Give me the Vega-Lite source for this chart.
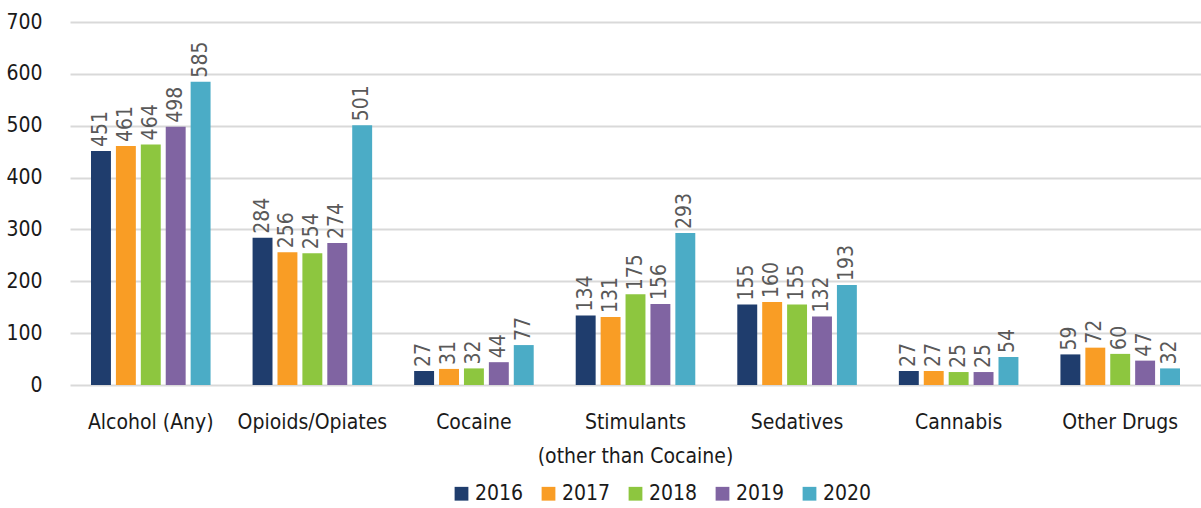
{
  "$schema": "https://vega.github.io/schema/vega-lite/v6.json",
  "width": 1131,
  "height": 363,
  "autosize": {"type": "none"},
  "padding": {"left": 70, "top": 22, "right": 0, "bottom": 123},
  "background": "white",
  "config": {
    "font": "DejaVu Sans Condensed, Roboto, sans-serif",
    "view": {"stroke": null},
    "axis": {"labelFont": "DejaVu Sans Condensed, Roboto, sans-serif", "labelFontSize": 21, "labelColor": "#1a1a1a", "labelLimit": 0},
    "legend": {"labelFont": "DejaVu Sans Condensed, Roboto, sans-serif", "labelFontSize": 21, "labelColor": "#1a1a1a"}
  },
  "data": {
    "values": [
      {"category": "Alcohol (Any)", "year": "2016", "value": 451},
      {"category": "Alcohol (Any)", "year": "2017", "value": 461},
      {"category": "Alcohol (Any)", "year": "2018", "value": 464},
      {"category": "Alcohol (Any)", "year": "2019", "value": 498},
      {"category": "Alcohol (Any)", "year": "2020", "value": 585},
      {"category": "Opioids/Opiates", "year": "2016", "value": 284},
      {"category": "Opioids/Opiates", "year": "2017", "value": 256},
      {"category": "Opioids/Opiates", "year": "2018", "value": 254},
      {"category": "Opioids/Opiates", "year": "2019", "value": 274},
      {"category": "Opioids/Opiates", "year": "2020", "value": 501},
      {"category": "Cocaine", "year": "2016", "value": 27},
      {"category": "Cocaine", "year": "2017", "value": 31},
      {"category": "Cocaine", "year": "2018", "value": 32},
      {"category": "Cocaine", "year": "2019", "value": 44},
      {"category": "Cocaine", "year": "2020", "value": 77},
      {"category": "Stimulants|(other than Cocaine)", "year": "2016", "value": 134},
      {"category": "Stimulants|(other than Cocaine)", "year": "2017", "value": 131},
      {"category": "Stimulants|(other than Cocaine)", "year": "2018", "value": 175},
      {"category": "Stimulants|(other than Cocaine)", "year": "2019", "value": 156},
      {"category": "Stimulants|(other than Cocaine)", "year": "2020", "value": 293},
      {"category": "Sedatives", "year": "2016", "value": 155},
      {"category": "Sedatives", "year": "2017", "value": 160},
      {"category": "Sedatives", "year": "2018", "value": 155},
      {"category": "Sedatives", "year": "2019", "value": 132},
      {"category": "Sedatives", "year": "2020", "value": 193},
      {"category": "Cannabis", "year": "2016", "value": 27},
      {"category": "Cannabis", "year": "2017", "value": 27},
      {"category": "Cannabis", "year": "2018", "value": 25},
      {"category": "Cannabis", "year": "2019", "value": 25},
      {"category": "Cannabis", "year": "2020", "value": 54},
      {"category": "Other Drugs", "year": "2016", "value": 59},
      {"category": "Other Drugs", "year": "2017", "value": 72},
      {"category": "Other Drugs", "year": "2018", "value": 60},
      {"category": "Other Drugs", "year": "2019", "value": 47},
      {"category": "Other Drugs", "year": "2020", "value": 32}
    ]
  },
  "encoding": {
    "x": {
      "field": "category",
      "type": "nominal",
      "sort": null,
      "scale": {"paddingInner": 0.26, "paddingOuter": 0.13},
      "axis": {
        "title": null,
        "labelAngle": 0,
        "domain": false,
        "ticks": false,
        "labelPadding": 26,
        "labelBaseline": "top",
        "labelLineHeight": 34,
        "labelExpr": "split(datum.label, '|')"
      }
    },
    "xOffset": {
      "field": "year",
      "type": "nominal",
      "scale": {"paddingInner": 0.2, "paddingOuter": 0}
    },
    "y": {
      "field": "value",
      "type": "quantitative",
      "scale": {"domain": [0, 700]},
      "axis": {
        "title": null,
        "values": [0, 100, 200, 300, 400, 500, 600, 700],
        "domain": false,
        "ticks": false,
        "labelPadding": 28,
        "gridColor": "#d9d9d9",
        "gridWidth": 2
      }
    }
  },
  "layer": [
    {
      "mark": {"type": "bar"},
      "encoding": {
        "color": {
          "field": "year",
          "type": "nominal",
          "scale": {
            "domain": ["2016", "2017", "2018", "2019", "2020"],
            "range": ["#1F3D6D", "#F99D25", "#8DC63F", "#8064A2", "#4BACC6"]
          },
          "legend": {
            "title": null,
            "orient": "none",
            "direction": "horizontal",
            "legendX": 381,
            "legendY": 461,
            "symbolType": "square",
            "symbolSize": 190,
            "symbolStrokeWidth": 0,
            "columnPadding": 14,
            "labelOffset": 3
          }
        }
      }
    },
    {
      "mark": {"type": "text", "angle": -90, "align": "left", "baseline": "middle", "dx": 4, "fontSize": 21, "color": "#595959"},
      "encoding": {
        "text": {"field": "value", "type": "quantitative"}
      }
    }
  ]
}
